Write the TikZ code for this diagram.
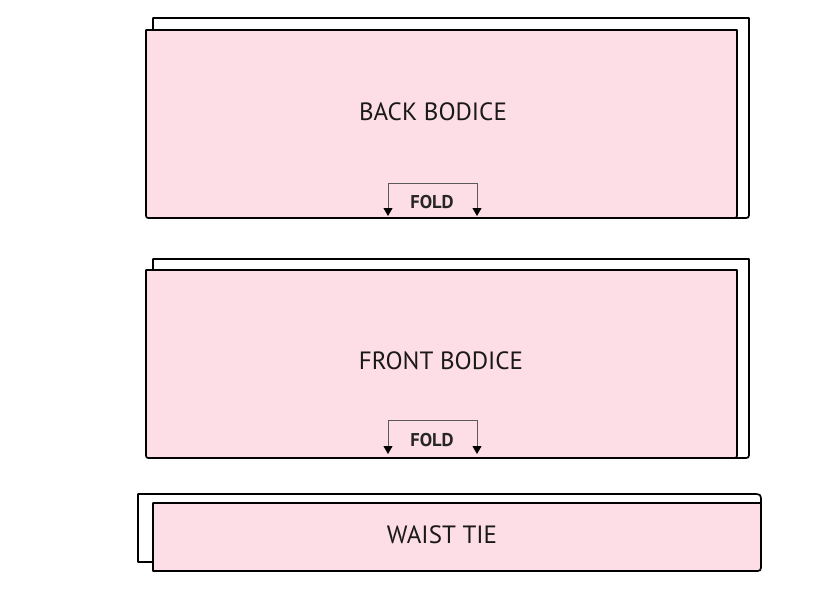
\documentclass[tikz,border=0pt]{standalone}
\usepackage{fontspec}
\setmainfont{PT Sans}
\usetikzlibrary{arrows.meta}
\definecolor{piecepink}{RGB}{253,221,230}
\definecolor{foldgray}{RGB}{90,90,90}
\tikzset{
  outline/.style={draw=black, line width=1.7pt, line join=round},
  backlayer/.style={outline, fill=white},
  frontlayer/.style={outline, fill=piecepink},
  piecelabel/.style={font=\fontsize{25}{28}\selectfont, text=black!90, inner sep=0pt},
  foldlabel/.style={font=\fontsize{18.5}{20}\selectfont\bfseries, text=black!85, inner sep=0pt},
  foldline/.style={draw=foldgray, line width=0.9pt, line join=miter,
    {Triangle[color=black,length=8pt,width=9pt]}-{Triangle[color=black,length=8pt,width=9pt]}}
}
\begin{document}
\begin{tikzpicture}[x=1pt,y=-1pt]
\useasboundingbox (0,0) rectangle (834,600);

% ---------- BACK BODICE ----------
\draw[backlayer] (153,218) -- (153,18) -- (749,18) -- (749,212)
  .. controls (749,218) .. (743,218) -- cycle;
\draw[frontlayer] (146,30) -- (737,30) -- (737,213)
  .. controls (737,218) .. (732,218) -- (151,218)
  .. controls (146,218) .. (146,213) -- cycle;
\node[piecelabel] (backlbl) at (433,112) {BACK BODICE};
\coordinate (bfl) at (388,216);
\coordinate (bftl) at (388,183);
\coordinate (bftr) at (477,183);
\coordinate (bfr) at (477,216);
\draw[foldline] (bfl) -- (bftl) -- (bftr) -- (bfr);
\node[foldlabel] (backfold) at (432,202) {FOLD};

% ---------- FRONT BODICE ----------
\draw[backlayer] (153,458) -- (153,259) -- (749,259) -- (749,452)
  .. controls (749,458) .. (743,458) -- cycle;
\draw[frontlayer] (146,270) -- (737,270) -- (737,453)
  .. controls (737,458) .. (732,458) -- (151,458)
  .. controls (146,458) .. (146,453) -- cycle;
\node[piecelabel] (frontlbl) at (441,361) {FRONT BODICE};
\coordinate (ffl) at (388,454);
\coordinate (fftl) at (388,420);
\coordinate (fftr) at (477,420);
\coordinate (ffr) at (477,454);
\draw[foldline] (ffl) -- (fftl) -- (fftr) -- (ffr);
\node[foldlabel] (frontfold) at (432,440) {FOLD};

% ---------- WAIST TIE ----------
\draw[backlayer] (138,562) -- (138,494) -- (752,494)
  .. controls (761,494) .. (761,502) -- (761,562) -- cycle;
\draw[frontlayer] (153,503) -- (761,503) -- (761,564)
  .. controls (761,571) .. (754,571) -- (153,571) -- cycle;
\node[piecelabel] (tielbl) at (442,535) {WAIST TIE};
\end{tikzpicture}
\end{document}
